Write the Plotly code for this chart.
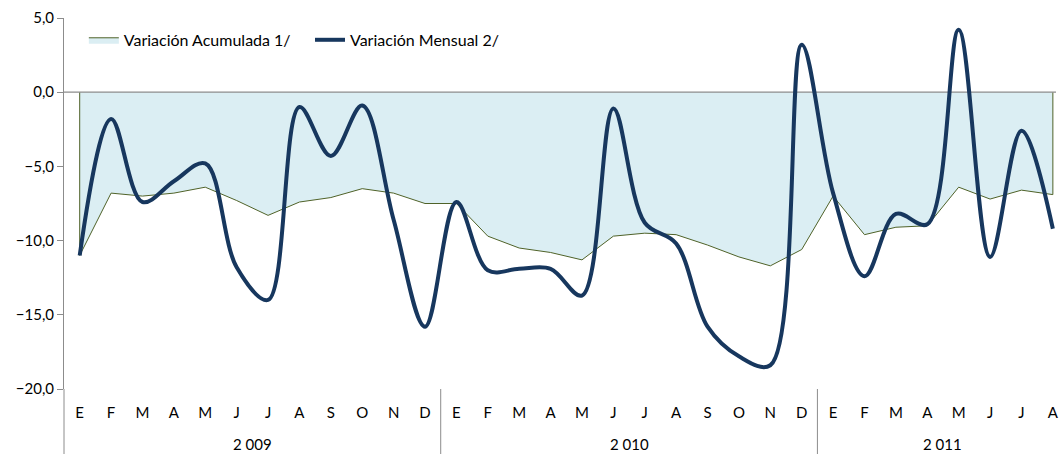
import plotly.graph_objects as go

months = ["E", "F", "M", "A", "M", "J", "J", "A", "S", "O", "N", "D",
          "E", "F", "M", "A", "M", "J", "J", "A", "S", "O", "N", "D",
          "E", "F", "M", "A", "M", "J", "J", "A"]
years = ["2 009", "2 010", "2 011"]
year_sizes = [12, 12, 8]

acumulada = [-11.0, -6.8, -7.0, -6.8, -6.4, -7.3, -8.3, -7.4, -7.1, -6.5, -6.8, -7.5,
             -7.5, -9.7, -10.5, -10.8, -11.3, -9.7, -9.5, -9.6, -10.3, -11.1, -11.7, -10.6,
             -7.0, -9.6, -9.1, -9.0, -6.4, -7.2, -6.6, -6.9]
mensual = [-11.0, -1.8, -7.4, -6.0, -4.8, -11.8, -14.0, -1.0, -4.3, -0.9, -8.6, -15.8,
           -7.4, -12.0, -11.9, -11.9, -13.7, -1.1, -8.8, -10.2, -15.8, -17.8, -18.4, 3.2,
           -6.8, -12.4, -8.2, -8.9, 4.2, -11.1, -2.6, -9.2]

y_ticks = [5, 0, -5, -10, -15, -20]

FONT = "Lato"
n = len(months)
xs = list(range(n))

fig = go.Figure()

# area (closed along zero at both ends, like the Excel area series)
fig.add_trace(go.Scatter(
    x=[xs[0]] + xs + [xs[-1]], y=[0] + acumulada + [0],
    mode="lines", fill="toself", fillcolor="#DBEEF3",
    line=dict(color="#4F6228", width=1),
    name="Variación Acumulada 1/", hoverinfo="skip", legend="legend"))

# category axis line at zero
fig.add_trace(go.Scatter(
    x=[-0.5, n - 0.5], y=[0, 0], mode="lines",
    line=dict(color="#8C8C8C", width=1.3), showlegend=False, hoverinfo="skip"))

fig.add_trace(go.Scatter(
    x=xs, y=mensual, mode="lines",
    line=dict(color="#17375E", width=4, shape="spline", smoothing=1.0),
    name="Variación Mensual 2/", legend="legend2"))

PLOT_H = 371
shapes = []
bottom = -65 / PLOT_H
shapes.append(dict(type="line", xref="paper", yref="paper", x0=0, x1=0, y0=0, y1=bottom,
                   line=dict(color="#8C8C8C", width=1)))
start = 0
annotations = []
for yr, sz in zip(years, year_sizes):
    end = start + sz
    if end < n:
        shapes.append(dict(type="line", xref="x", yref="paper", x0=end - 0.5, x1=end - 0.5,
                           y0=0, y1=bottom, line=dict(color="#8C8C8C", width=1)))
    annotations.append(dict(x=start + (sz - 1) / 2, y=-64.5 / PLOT_H, xref="x", yref="paper",
                            text=yr, showarrow=False, yanchor="bottom", borderpad=0,
                            font=dict(family=FONT, size=15, color="#000000")))
    start = end

leg_common = dict(orientation="h", y=0.941, xanchor="left", yanchor="middle",
                  bgcolor="rgba(0,0,0,0)", font=dict(family=FONT, size=16, color="#000000"),
                  itemwidth=30)

fig.update_layout(
    width=1059, height=454,
    margin=dict(l=64, r=0, t=18, b=65),
    paper_bgcolor="white", plot_bgcolor="white",
    separators=",.",
    font=dict(family=FONT, size=15, color="#000000"),
    showlegend=True,
    legend=dict(x=0.020, **leg_common),
    legend2=dict(x=0.248, **leg_common),
    xaxis=dict(range=[-0.5, 31.1], tickmode="array", tickvals=xs, ticktext=months,
               showgrid=False, zeroline=False, showline=False,
               ticks="outside", ticklen=10, tickcolor="rgba(0,0,0,0)",
               ticklabeloverflow="allow",
               tickfont=dict(family=FONT, size=15)),
    yaxis=dict(range=[-20, 5], tickvals=y_ticks, tickformat=".1f",
               showgrid=False, zeroline=False, showline=True, linecolor="#8C8C8C",
               linewidth=1, ticks="outside", ticklen=6, tickcolor="#8C8C8C",
               tickfont=dict(family=FONT, size=15)),
    shapes=shapes, annotations=annotations,
)

fig.write_html("out.html", default_width="1059px", default_height="454px",
               config={"displayModeBar": False},
               post_script="document.body.style.margin='0';"
                           "document.documentElement.style.overflow='hidden';")
